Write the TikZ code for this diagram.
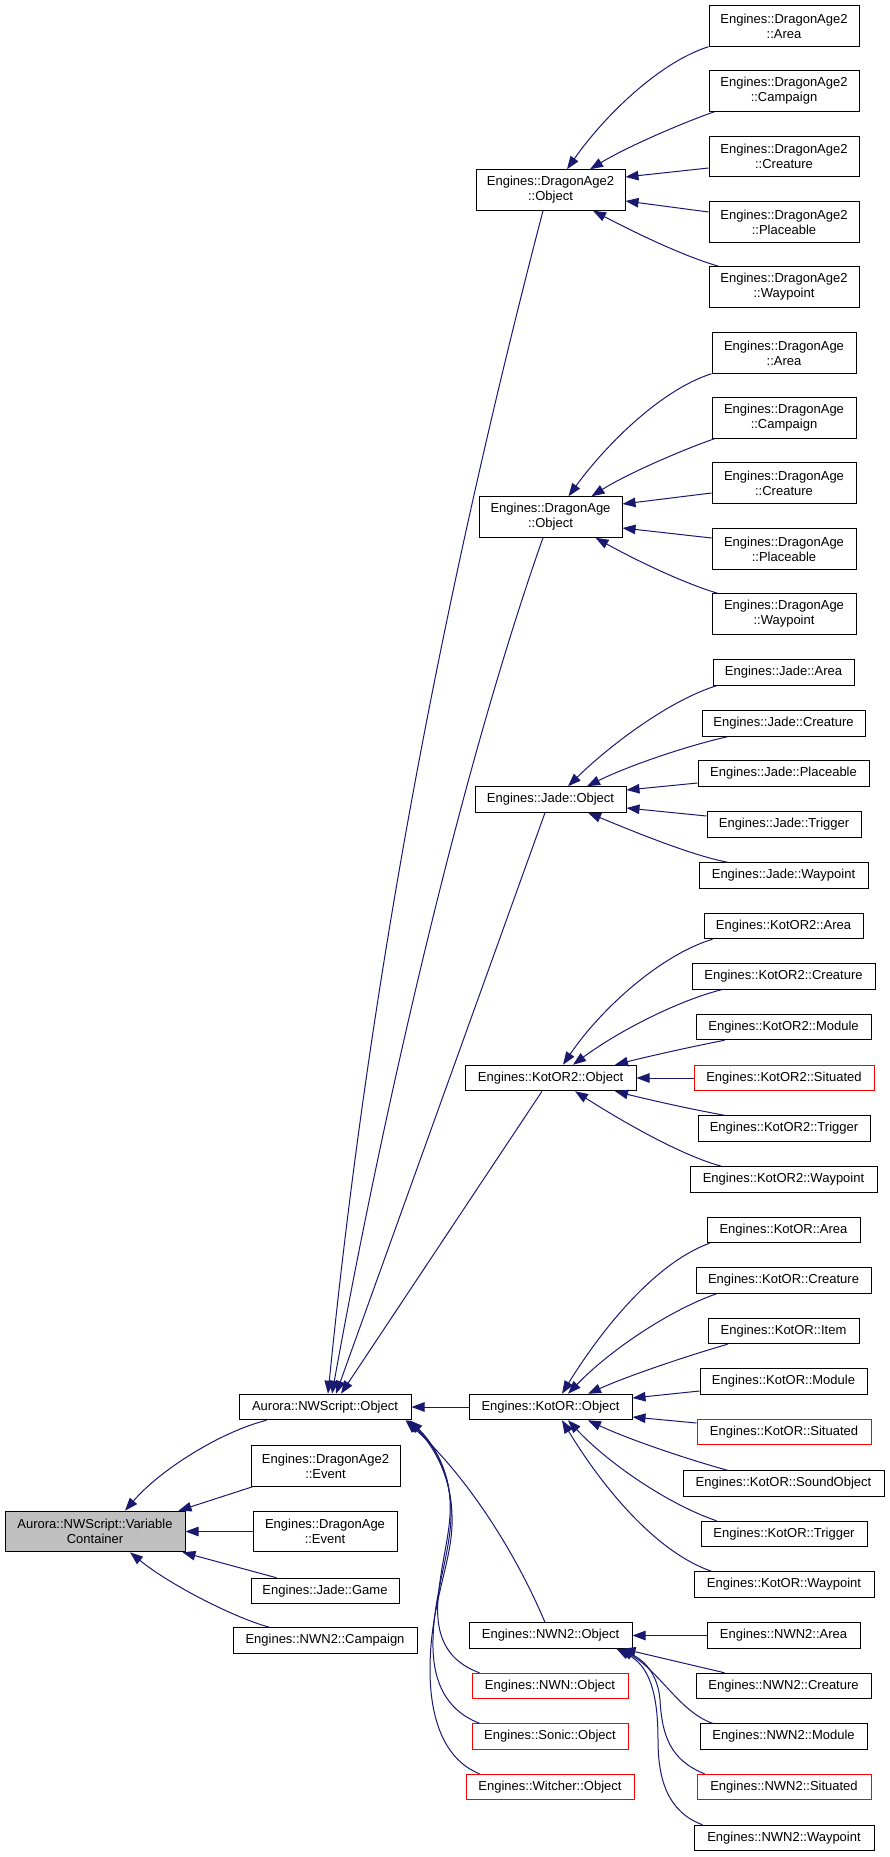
\documentclass[tikz,border=0pt]{standalone}
\usepackage{fontspec}
\setmainfont{Liberation Sans}
\usetikzlibrary{arrows.meta,calc}
\definecolor{edgeblue}{HTML}{191970}
\definecolor{vcgray}{HTML}{BFBFBF}
\begin{document}
\begin{tikzpicture}[x=1pt,y=-1pt,
  cls/.style={draw=black, line width=1pt, fill=white, inner sep=0pt, align=center,
    font=\fontsize{13}{15}\selectfont, minimum height=25.5pt},
  cls2/.style={cls, minimum height=40.5pt},
  redcls/.style={cls, draw=red},
  conn/.style={draw=edgeblue, line width=1pt, -{Triangle[length=13pt,width=9.5pt]}},
]
\useasboundingbox[fill=white] (0,0) rectangle (889,1857);

% ---------- left ----------
\node[cls2, fill=vcgray, minimum width=180pt] (vc) at (95,1531.5) {Aurora::NWScript::Variable\\Container};
\node[cls, minimum width=172pt] (nws) at (325,1407) {Aurora::NWScript::Object};
\node[cls2, minimum width=149pt] (da2ev) at (325.5,1466) {Engines::DragonAge2\\::Event};
\node[cls2, minimum width=144pt] (daev) at (325,1531.5) {Engines::DragonAge\\::Event};
\node[cls, minimum width=148pt] (jgame) at (325,1591) {Engines::Jade::Game};
\node[cls, minimum width=184pt] (nwn2camp) at (325,1640.5) {Engines::NWN2::Campaign};

% ---------- middle ----------
\node[cls2, minimum width=149pt] (da2obj) at (550.5,190) {Engines::DragonAge2\\::Object};
\node[cls2, minimum width=143pt] (daobj) at (550.5,517) {Engines::DragonAge\\::Object};
\node[cls, minimum width=151pt] (jobj) at (550.5,799.5) {Engines::Jade::Object};
\node[cls, minimum width=171pt] (k2obj) at (550.5,1078) {Engines::KotOR2::Object};
\node[cls, minimum width=163pt] (kobj) at (550.5,1407) {Engines::KotOR::Object};
\node[cls, minimum width=163pt] (n2obj) at (550.5,1635.5) {Engines::NWN2::Object};
\node[redcls, minimum width=156pt] (nwnobj) at (550,1686) {Engines::NWN::Object};
\node[redcls, minimum width=156pt] (sonic) at (550,1736.5) {Engines::Sonic::Object};
\node[redcls, minimum width=168pt] (witcher) at (550,1787) {Engines::Witcher::Object};

% ---------- right: DragonAge2 ----------
\node[cls2, minimum width=150pt] (da2area) at (784,26) {Engines::DragonAge2\\::Area};
\node[cls2, minimum width=150pt] (da2camp) at (784,91) {Engines::DragonAge2\\::Campaign};
\node[cls2, minimum width=150pt] (da2crea) at (784,156.5) {Engines::DragonAge2\\::Creature};
\node[cls2, minimum width=150pt] (da2plac) at (784,222) {Engines::DragonAge2\\::Placeable};
\node[cls2, minimum width=150pt] (da2way) at (784,287) {Engines::DragonAge2\\::Waypoint};
% ---------- right: DragonAge ----------
\node[cls2, minimum width=144pt] (daarea) at (784,353) {Engines::DragonAge\\::Area};
\node[cls2, minimum width=144pt] (dacamp) at (784,418) {Engines::DragonAge\\::Campaign};
\node[cls2, minimum width=144pt] (dacrea) at (784,483) {Engines::DragonAge\\::Creature};
\node[cls2, minimum width=144pt] (daplac) at (784,549) {Engines::DragonAge\\::Placeable};
\node[cls2, minimum width=144pt] (daway) at (784,614) {Engines::DragonAge\\::Waypoint};
% ---------- right: Jade ----------
\node[cls, minimum width=141pt] (jarea) at (783.5,672.5) {Engines::Jade::Area};
\node[cls, minimum width=163pt] (jcrea) at (783.5,723.5) {Engines::Jade::Creature};
\node[cls, minimum width=171pt] (jplac) at (783.5,773.5) {Engines::Jade::Placeable};
\node[cls, minimum width=154pt] (jtrig) at (784,824.5) {Engines::Jade::Trigger};
\node[cls, minimum width=169pt] (jway) at (783.5,875.5) {Engines::Jade::Waypoint};
% ---------- right: KotOR2 ----------
\node[cls, minimum width=159pt] (k2area) at (783.5,926) {Engines::KotOR2::Area};
\node[cls, minimum width=183pt] (k2crea) at (783.5,976.5) {Engines::KotOR2::Creature};
\node[cls, minimum width=175pt] (k2mod) at (783.5,1027) {Engines::KotOR2::Module};
\node[redcls, minimum width=180pt] (k2sit) at (784,1078) {Engines::KotOR2::Situated};
\node[cls, minimum width=172pt] (k2trig) at (784,1128.5) {Engines::KotOR2::Trigger};
\node[cls, minimum width=187pt] (k2way) at (783.5,1179.5) {Engines::KotOR2::Waypoint};
% ---------- right: KotOR ----------
\node[cls, minimum width=153pt] (karea) at (783.5,1230) {Engines::KotOR::Area};
\node[cls, minimum width=175pt] (kcrea) at (783.5,1280.5) {Engines::KotOR::Creature};
\node[cls, minimum width=151pt] (kitem) at (783.5,1331) {Engines::KotOR::Item};
\node[cls, minimum width=167pt] (kmod) at (783.5,1381.5) {Engines::KotOR::Module};
\node[redcls, minimum width=174pt] (ksit) at (784,1432) {Engines::KotOR::Situated};
\node[cls, minimum width=201pt] (ksound) at (783.5,1483.5) {Engines::KotOR::SoundObject};
\node[cls, minimum width=166pt] (ktrig) at (784,1534) {Engines::KotOR::Trigger};
\node[cls, minimum width=180pt] (kway) at (784,1584.5) {Engines::KotOR::Waypoint};
% ---------- right: NWN2 ----------
\node[cls, minimum width=153pt] (n2area) at (783.5,1635.5) {Engines::NWN2::Area};
\node[cls, minimum width=175pt] (n2crea) at (783.5,1686) {Engines::NWN2::Creature};
\node[cls, minimum width=167pt] (n2mod) at (783.5,1736.5) {Engines::NWN2::Module};
\node[redcls, minimum width=174pt] (n2sit) at (784,1787) {Engines::NWN2::Situated};
\node[cls, minimum width=180pt] (n2way) at (784,1838) {Engines::NWN2::Waypoint};

% ---------- edges: DragonAge2 ----------
\draw[conn] (da2area.south west) .. controls (660,62) and (605,115) .. ($(da2obj.north)+(16.5,0)$);
\draw[conn] ($(da2camp.south west)+(6,0)$) .. controls (690,120) and (630,145) .. ($(da2obj.north)+(39.5,0)$);
\draw[conn] ($(da2crea.west)+(0,11.5)$) -- ($(da2obj.east)+(0,-13)$);
\draw[conn] ($(da2plac.west)+(0,-10)$) -- ($(da2obj.east)+(0,11)$);
\draw[conn] ($(da2way.north west)+(10,0)$) .. controls (680,255) and (630,230) .. ($(da2obj.south)+(42.5,0)$);
% ---------- edges: DragonAge ----------
\draw[conn] (daarea.south west) .. controls (663,389) and (608,442) .. ($(daobj.north)+(18,0)$);
\draw[conn] ($(dacamp.south west)+(3,0)$) .. controls (690,447) and (630,472) .. ($(daobj.north)+(41,0)$);
\draw[conn] ($(dacrea.west)+(0,10)$) -- ($(daobj.east)+(0,-13)$);
\draw[conn] ($(daplac.west)+(0,-11)$) -- ($(daobj.east)+(0,11)$);
\draw[conn] ($(daway.north west)+(6,0)$) .. controls (680,582) and (630,557) .. ($(daobj.south)+(45,0)$);
% ---------- edges: Jade ----------
\draw[conn] ($(jarea.south west)+(4,0)$) .. controls (670,700) and (610,745) .. ($(jobj.north)+(17.5,0)$);
\draw[conn] ($(jcrea.south west)+(26,0)$) .. controls (690,745) and (630,765) .. ($(jobj.north)+(36.5,0)$);
\draw[conn] ($(jplac.west)+(0,9.5)$) -- ($(jobj.east)+(0,-9.5)$);
\draw[conn] ($(jtrig.west)+(0,-8.5)$) -- ($(jobj.east)+(0,8.5)$);
\draw[conn] ($(jway.north west)+(29,0)$) .. controls (690,855) and (630,830) .. ($(jobj.south)+(37.5,0)$);
% ---------- edges: KotOR2 ----------
\draw[conn] ($(k2area.south west)+(9,0)$) .. controls (660,955) and (600,1010) .. ($(k2obj.north)+(12.5,0)$);
\draw[conn] ($(k2crea.south west)+(30,0)$) .. controls (680,1000) and (620,1030) .. ($(k2obj.north)+(22.5,0)$);
\draw[conn] ($(k2mod.south west)+(29,0)$) .. controls (690,1047) and (650,1056) .. ($(k2obj.north)+(64.5,0)$);
\draw[conn] (k2sit.west) -- (k2obj.east);
\draw[conn] ($(k2trig.north west)+(27,0)$) .. controls (690,1109) and (650,1100) .. ($(k2obj.south)+(64.5,0)$);
\draw[conn] ($(k2way.north west)+(32,0)$) .. controls (680,1155) and (620,1120) .. ($(k2obj.south)+(24.5,0)$);
% ---------- edges: KotOR ----------
\draw[conn] ($(karea.south west)+(3,0)$) .. controls (650,1265) and (595,1340) .. ($(kobj.north)+(11.5,0)$);
\draw[conn] ($(kcrea.south west)+(21,0)$) .. controls (670,1310) and (610,1350) .. ($(kobj.north)+(17.5,0)$);
\draw[conn] ($(kitem.south west)+(20,0)$) .. controls (690,1355) and (630,1375) .. ($(kobj.north)+(37.5,0)$);
\draw[conn] ($(kmod.west)+(0,9.5)$) -- ($(kobj.east)+(0,-9)$);
\draw[conn] ($(ksit.west)+(0,-9)$) -- ($(kobj.east)+(0,10)$);
\draw[conn] ($(ksound.north west)+(45,0)$) .. controls (690,1460) and (630,1440) .. ($(kobj.south)+(37.5,0)$);
\draw[conn] ($(ktrig.north west)+(16,0)$) .. controls (670,1505) and (610,1465) .. ($(kobj.south)+(17.5,0)$);
\draw[conn] ($(kway.north west)+(18,0)$) .. controls (650,1550) and (595,1475) .. ($(kobj.south)+(11.5,0)$);
% ---------- edges: NWN2 ----------
\draw[conn] (n2area.west) -- (n2obj.east);
\draw[conn] ($(n2crea.north west)+(29,0)$) -- ($(n2obj.south)+(72,0)$);
\draw[conn] ($(n2mod.north west)+(13,0)$) .. controls (680,1712) and (660,1672) .. ($(n2obj.south)+(70,0)$);
\draw[conn] ($(n2sit.north west)+(8,0)$) .. controls (670,1760) and (662,1735) .. (660,1700) .. controls (658,1675) and (645,1660) .. ($(n2obj.south)+(68,0)$);
\draw[conn] ($(n2way.north west)+(9,0)$) .. controls (668,1812) and (658,1780) .. (658,1740) .. controls (658,1690) and (648,1665) .. ($(n2obj.south)+(66,0)$);
% ---------- edges: to Aurora::NWScript::Object ----------
\draw[conn] ($(da2obj.south)+(-7.5,0)$) .. controls (439,610) and (368,994) .. ($(nws.north)+(3,0)$);
\draw[conn] ($(daobj.south)+(-7.5,0)$) .. controls (455,787) and (377,1144) .. ($(nws.north)+(7,0)$);
\draw[conn] ($(jobj.south)+(-5.5,0)$) -- ($(nws.north)+(11,0)$);
\draw[conn] ($(k2obj.south)+(-8.5,0)$) -- ($(nws.north)+(16,0)$);
\draw[conn] (kobj.west) -- (nws.east);
\draw[conn] ($(n2obj.north)+(-5.5,0)$) .. controls (510,1540) and (460,1470) .. ($(nws.south east)+(-6,0)$);
\draw[conn] ($(nwnobj.north west)+(8,0)$) .. controls (450,1662) and (435,1640) .. (438,1600) .. controls (441,1560) and (452,1530) .. (450,1500) .. controls (448,1465) and (430,1440) .. ($(nws.south east)+(-2,0)$);
\draw[conn] ($(sonic.north west)+(8,0)$) .. controls (445,1710) and (432,1680) .. (433,1640) .. controls (434,1590) and (452,1550) .. (451,1510) .. controls (450,1470) and (432,1442) .. ($(nws.south east)+(-4,0)$);
\draw[conn] ($(witcher.north west)+(14,0)$) .. controls (445,1760) and (430,1720) .. (430,1670) .. controls (430,1600) and (454,1560) .. (452,1515) .. controls (451,1475) and (432,1443) .. ($(nws.south east)+(-5,0)$);
% ---------- edges: to VariableContainer ----------
\draw[conn] ($(nws.south west)+(28,0)$) .. controls (220,1432) and (160,1470) .. ($(vc.north)+(30,0)$);
\draw[conn] ($(da2ev.south west)+(2,0)$) -- ($(vc.north east)+(-7,0)$);
\draw[conn] (daev.west) -- (vc.east);
\draw[conn] ($(jgame.north west)+(26,0)$) -- ($(vc.south east)+(-3,0)$);
\draw[conn] ($(nwn2camp.north west)+(37,0)$) .. controls (235,1618) and (170,1585) .. ($(vc.south)+(35,0)$);
\end{tikzpicture}
\end{document}
